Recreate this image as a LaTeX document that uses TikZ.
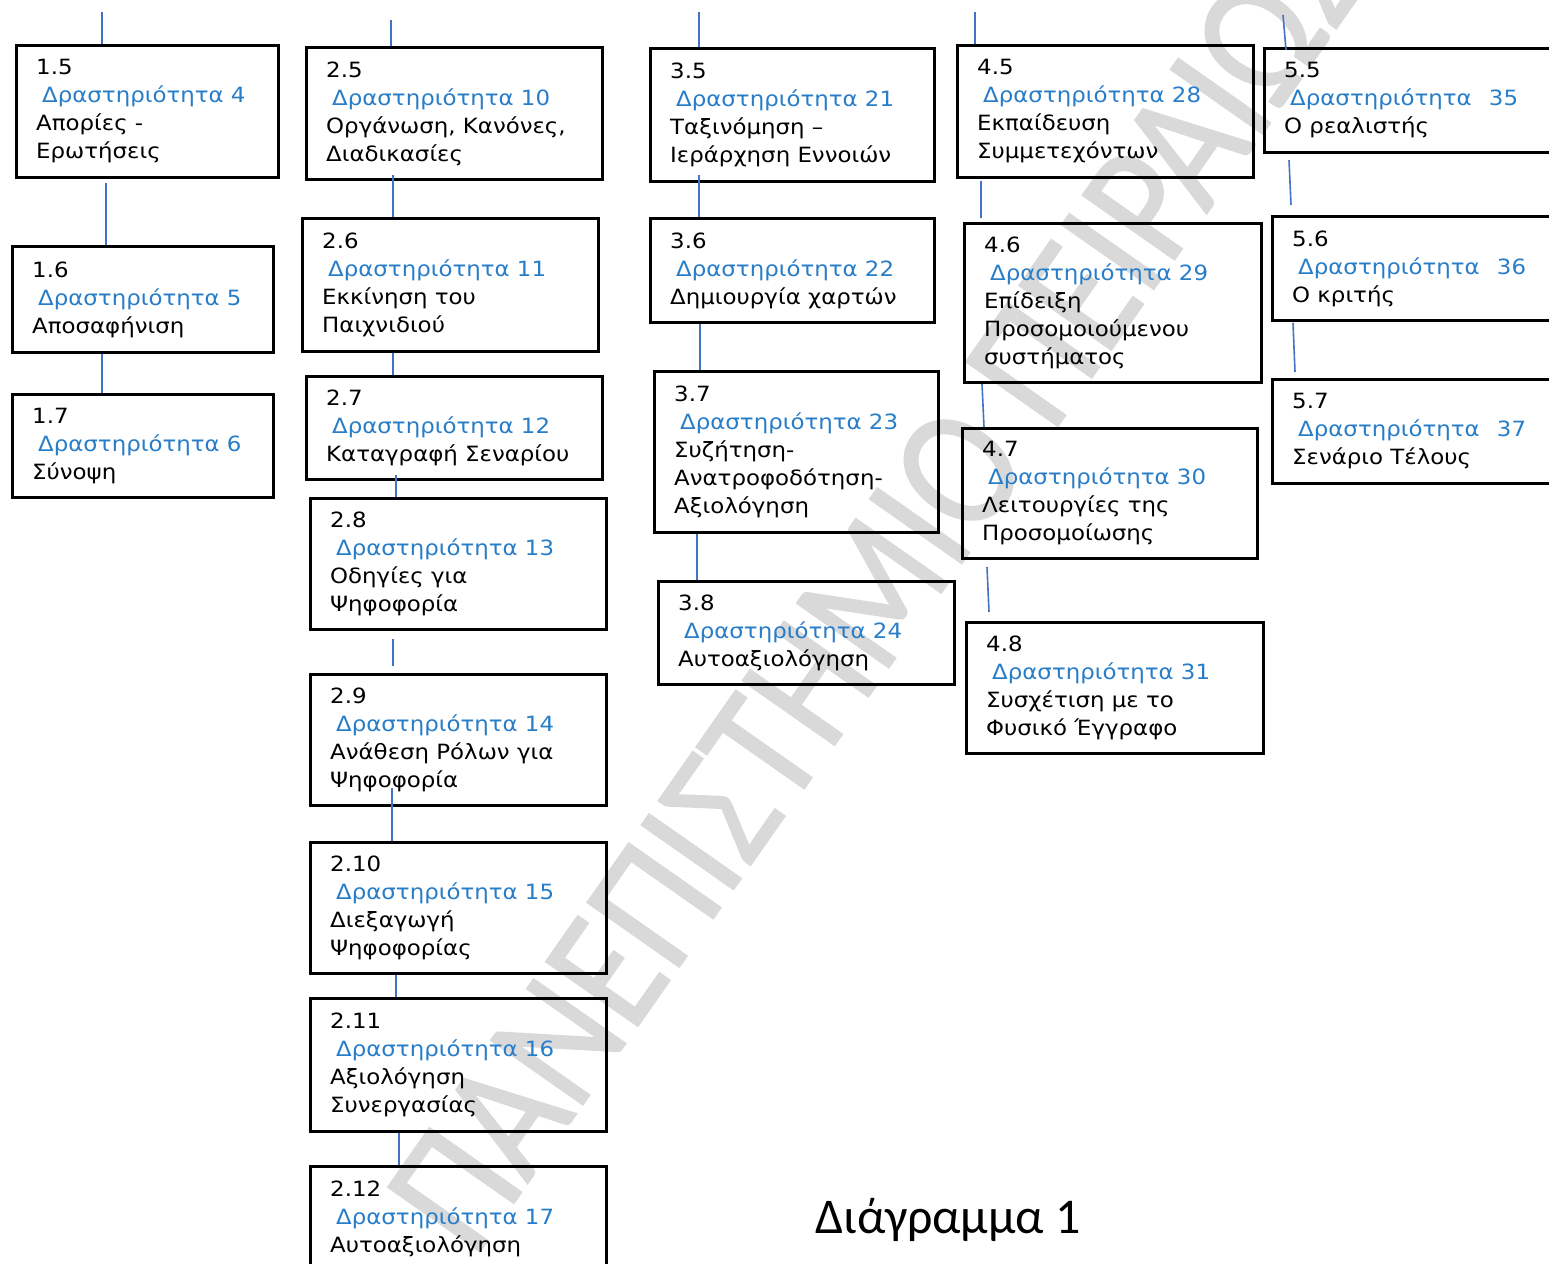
\documentclass[tikz,border=0pt]{standalone}
\usepackage{fontspec}
\setmainfont{DejaVu Sans}[FakeStretch=1.09]
\newfontfamily\titlefont{Carlito}
\newfontfamily\wmfont{Carlito}[FakeStretch=0.85,FakeBold=1]
\usetikzlibrary{calc}
\definecolor{actblue}{RGB}{40,125,200}
\definecolor{linkblue}{RGB}{68,114,196}
\definecolor{wmgray}{RGB}{217,217,217}
\tikzset{
  actframe/.style={draw=black, line width=3pt, rectangle, inner sep=0pt},
  acttext/.style={align=left, inner sep=0pt, text=black, font=\fontsize{21}{28}\selectfont},
  conn/.style={draw=linkblue, line width=1.6pt},
  wmark/.style={inner sep=0pt, text=wmgray, font=\wmfont\fontsize{175}{175}\selectfont},
  titletext/.style={inner sep=0pt, font=\titlefont\fontsize{50}{60}\selectfont}
}
% name, x, y, w, h, number, activity, text
\newcommand\actbox[8]{%
  \node[actframe, minimum width=#4, minimum height=#5, anchor=north west] (#1) at (#2,#3) {};
  \node[acttext, anchor=west] (#1t) at ([xshift=21]#1.west) {#6\\\hspace*{6pt}\textcolor{actblue}{Δραστηριότητα #7}\\#8};
}
% from, to, x1, dy1, x2, dy2
\newcommand\vlink[6]{\draw[conn] ($(#1.south -| #3,0)+(0,#4)$) -- ($(#2.north -| #5,0)+(0,#6)$);}
\begin{document}
\begin{tikzpicture}[x=1pt,y=-1pt]
\useasboundingbox (0,0) rectangle (1549,1263);
\clip (0,0) rectangle (1549,1263);
\fill[white] (0,0) rectangle (1549,1263);

% watermark
\node[wmark, rotate=55, anchor=base west] (wm) at (474,1260) {ΠΑΝΕΠΙΣΤΗΜΙΟ ΠΕΙΡΑΙΩΣ};

% column 1
\actbox{b15}{15}{44}{262}{132}{1.5}{4}{Απορίες -\\Ερωτήσεις}
\actbox{b16}{11}{245}{261}{106}{1.6}{5}{Αποσαφήνιση}
\actbox{b17}{11}{393}{261}{103}{1.7}{6}{Σύνοψη}
% column 2
\actbox{b25}{305}{46}{296}{132}{2.5}{10}{Οργάνωση, Κανόνες,\\Διαδικασίες}
\actbox{b26}{301}{217}{296}{133}{2.6}{11}{Εκκίνηση του\\Παιχνιδιού}
\actbox{b27}{305}{375}{296}{103}{2.7}{12}{Καταγραφή Σεναρίου}
\actbox{b28}{309}{497}{296}{131}{2.8}{13}{Οδηγίες για\\Ψηφοφορία}
\actbox{b29}{309}{673}{296}{131}{2.9}{14}{Ανάθεση Ρόλων για\\Ψηφοφορία}
\actbox{b210}{309}{841}{296}{131}{2.10}{15}{Διεξαγωγή\\Ψηφοφορίας}
\actbox{b211}{309}{997}{296}{133}{2.11}{16}{Αξιολόγηση\\Συνεργασίας}
\actbox{b212}{309}{1165}{296}{104}{2.12}{17}{Αυτοαξιολόγηση}
% column 3
\actbox{b35}{649}{47}{284}{133}{3.5}{21}{Ταξινόμηση –\\Ιεράρχηση Εννοιών}
\actbox{b36}{649}{217}{284}{104}{3.6}{22}{Δημιουργία χαρτών}
\actbox{b37}{653}{370}{284}{161}{3.7}{23}{Συζήτηση-\\Ανατροφοδότηση-\\Αξιολόγηση}
\actbox{b38}{657}{580}{296}{103}{3.8}{24}{Αυτοαξιολόγηση}
% column 4
\actbox{b45}{956}{44}{296}{132}{4.5}{28}{Εκπαίδευση\\Συμμετεχόντων}
\actbox{b46}{963}{222}{297}{159}{4.6}{29}{Επίδειξη\\Προσομοιούμενου\\συστήματος}
\actbox{b47}{961}{427}{295}{130}{4.7}{30}{Λειτουργίες της\\Προσομοίωσης}
\actbox{b48}{965}{621}{297}{131}{4.8}{31}{Συσχέτιση με το\\Φυσικό Έγγραφο}
% column 5
\actbox{b55}{1263}{47}{300}{104}{5.5}{\hspace{10pt}35}{Ο ρεαλιστής}
\actbox{b56}{1271}{215}{300}{104}{5.6}{\hspace{10pt}36}{Ο κριτής}
\actbox{b57}{1271}{378}{300}{104}{5.7}{\hspace{10pt}37}{Σενάριο Τέλους}

% incoming lines from above
\coordinate (c1top) at (102,12);
\coordinate (c2top) at (391,20);
\coordinate (c3top) at (699,12);
\coordinate (c4top) at (975,12);
\coordinate (c5top) at (1283,15);
\draw[conn] (c1top) -- (b15.north -| c1top);
\draw[conn] (c2top) -- (b25.north -| c2top);
\draw[conn] (c3top) -- (b35.north -| c3top);
\draw[conn] (c4top) -- (b45.north -| c4top);
\draw[conn] (c5top) -- ($(b55.north -| 1286,0)+(0,3)$);

% links
\vlink{b15}{b16}{106}{4}{106}{0}
\vlink{b16}{b17}{102}{0}{102}{0}
\vlink{b25}{b26}{393}{-6}{393}{0}
\vlink{b26}{b27}{393}{0}{393}{0}
\vlink{b27}{b28}{396}{-6}{396}{0}
\vlink{b28}{b29}{393}{8}{393}{-7}
\vlink{b29}{b210}{392}{-19}{392}{0}
\vlink{b210}{b211}{396}{0}{396}{0}
\vlink{b211}{b212}{399}{0}{399}{0}
\vlink{b35}{b36}{699}{-8}{699}{0}
\vlink{b36}{b37}{700}{0}{700}{0}
\vlink{b37}{b38}{697}{0}{697}{0}
\vlink{b45}{b46}{981}{2}{981}{-4}
\vlink{b46}{b47}{982}{0}{984}{0}
\vlink{b47}{b48}{987}{7}{989}{-9}
\vlink{b55}{b56}{1289}{6}{1291}{-10}
\vlink{b56}{b57}{1293}{1}{1295}{-6}

% title
\node[titletext, anchor=base] (title) at (948,1233) {Διάγραμμα 1};
\end{tikzpicture}
\end{document}
